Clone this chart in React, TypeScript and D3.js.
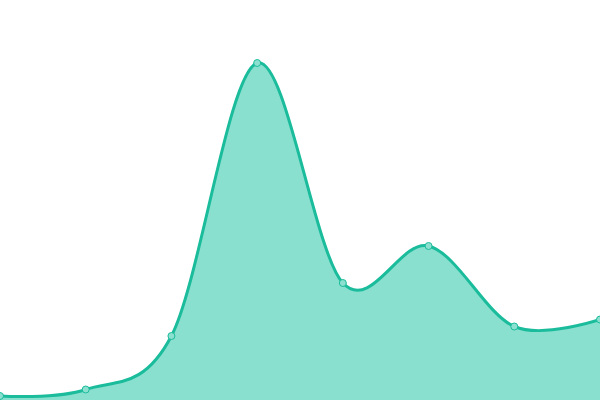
import React, { useEffect, useRef } from 'react';
import * as d3 from 'd3';

const labels = ['1', '2', '3', '4', '5', '6', '7', '8'];
const values = [4, 10.5, 64, 337, 117, 154, 73.5, 80.5];

const width = 600;
const height = 400;

const App = () => {
  const svgRef = useRef<SVGSVGElement>(null);

  useEffect(() => {
    document.body.style.margin = '0';
    const svg = d3.select(svgRef.current);
    svg.selectAll('*').remove();

    const x = d3.scalePoint<string>().domain(labels).range([0, width]);
    const y = d3.scaleLinear().domain([0, 400]).range([height, 0]);

    const area = d3
      .area<number>()
      .x((d, i) => x(labels[i]) as number)
      .y0(height)
      .y1((d) => y(d))
      .curve(d3.curveCardinal);

    const line = d3
      .line<number>()
      .x((d, i) => x(labels[i]) as number)
      .y((d) => y(d))
      .curve(d3.curveCardinal);

    svg
      .append('path')
      .datum(values)
      .attr('d', area)
      .attr('fill', '#89e0cf');

    svg
      .append('path')
      .datum(values)
      .attr('d', line)
      .attr('fill', 'none')
      .attr('stroke', '#1abc9c')
      .attr('stroke-width', 3);

    svg
      .selectAll('circle')
      .data(values)
      .enter()
      .append('circle')
      .attr('cx', (d, i) => x(labels[i]) as number)
      .attr('cy', (d) => y(d))
      .attr('r', 3.5)
      .attr('fill', '#8ce0cf')
      .attr('stroke', '#1abc9c')
      .attr('stroke-width', 1);
  }, []);

  return (
    <svg
      ref={svgRef}
      width={width}
      height={height}
      style={{ position: 'absolute', top: 0, left: 0, display: 'block' }}
    />
  );
};

export default App;
